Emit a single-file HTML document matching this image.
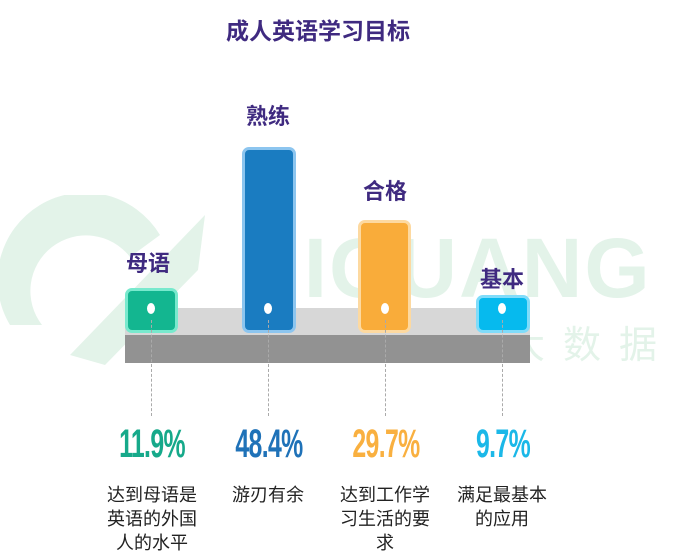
<!DOCTYPE html>
<html><head><meta charset="utf-8"><style>
body{margin:0;background:#fff;width:674px;height:557px;overflow:hidden;position:relative;font-family:"Liberation Sans","Noto Sans CJK SC",sans-serif}
.a{position:absolute}
.t{color:#3f2a80;font-weight:bold;font-size:22px;white-space:nowrap;transform:translateX(-50%)}
.bar{position:absolute;border-radius:7px;box-sizing:border-box;border:3px solid}
.dot{position:absolute;width:8px;height:11px;border-radius:50%;background:#fff;top:303px;margin-left:-4px}
.dash{position:absolute;top:320px;height:96px;border-left:1px dashed #aaa}
.pct{position:absolute;top:422px;font-size:40px;font-weight:bold;transform:translateX(-50%) scaleX(0.62);white-space:nowrap;letter-spacing:-1px}
.d{position:absolute;top:483px;font-size:18px;line-height:24px;color:#222;transform:translateX(-50%);text-align:center;white-space:nowrap}
</style></head><body>
<div class="a t" style="left:318px;top:12px;font-size:23px">成人英语学习目标</div>
<svg class="a" style="left:0;top:195px" width="674" height="180">
<path d="M10 130 A80 80 0 0 1 160 40 L130 62 A50 50 0 0 0 42 130 Z" fill="#e3f3e9"/>
<path d="M70 160 L205 20 L198 75 L105 170 Z" fill="#e3f3e9"/>
<text x="255" y="102" font-size="84" font-weight="bold" fill="#e3f3e9" font-family="Liberation Sans" letter-spacing="2">JIGUANG</text>
<text x="395" y="163" font-size="38" fill="#e3f3e9" font-family="Noto Sans CJK SC" letter-spacing="18">极光大数据</text>
</svg>
<div class="a" style="left:125px;top:308px;width:405px;height:27px;background:#d7d7d7"></div>
<div class="a" style="left:125px;top:335px;width:405px;height:28px;background:#929292"></div>
<div class="bar" style="left:125px;top:288px;width:53px;height:45px;background:#13b690;border-color:#78e9cd"></div>
<div class="bar" style="left:242px;top:147px;width:54px;height:186px;background:#1a7cc1;border-color:#8cc5ef"></div>
<div class="bar" style="left:358px;top:220px;width:53px;height:113px;background:#f9ac3a;border-color:#fdd9a0"></div>
<div class="bar" style="left:476px;top:295px;width:54px;height:38px;background:#06baee;border-color:#80dcfa"></div>
<div class="dot" style="left:151px"></div><div class="dot" style="left:268px"></div><div class="dot" style="left:385px"></div><div class="dot" style="left:502px"></div>
<div class="dash" style="left:151px"></div><div class="dash" style="left:268px"></div><div class="dash" style="left:385px"></div><div class="dash" style="left:502px"></div>
<div class="a t" style="left:148px;top:246px">母语</div>
<div class="a t" style="left:268px;top:99px">熟练</div>
<div class="a t" style="left:385px;top:174px">合格</div>
<div class="a t" style="left:502px;top:262px">基本</div>
<div class="pct" style="left:152px;color:#16a98a">11.9%</div>
<div class="pct" style="left:269px;color:#1f72b8">48.4%</div>
<div class="pct" style="left:386px;color:#f9b040">29.7%</div>
<div class="pct" style="left:503px;color:#1bb8e8">9.7%</div>
<div class="d" style="left:152px">达到母语是<br>英语的外国<br>人的水平</div>
<div class="d" style="left:268px">游刃有余</div>
<div class="d" style="left:385px">达到工作学<br>习生活的要<br>求</div>
<div class="d" style="left:502px">满足最基本<br>的应用</div>
</body></html>
